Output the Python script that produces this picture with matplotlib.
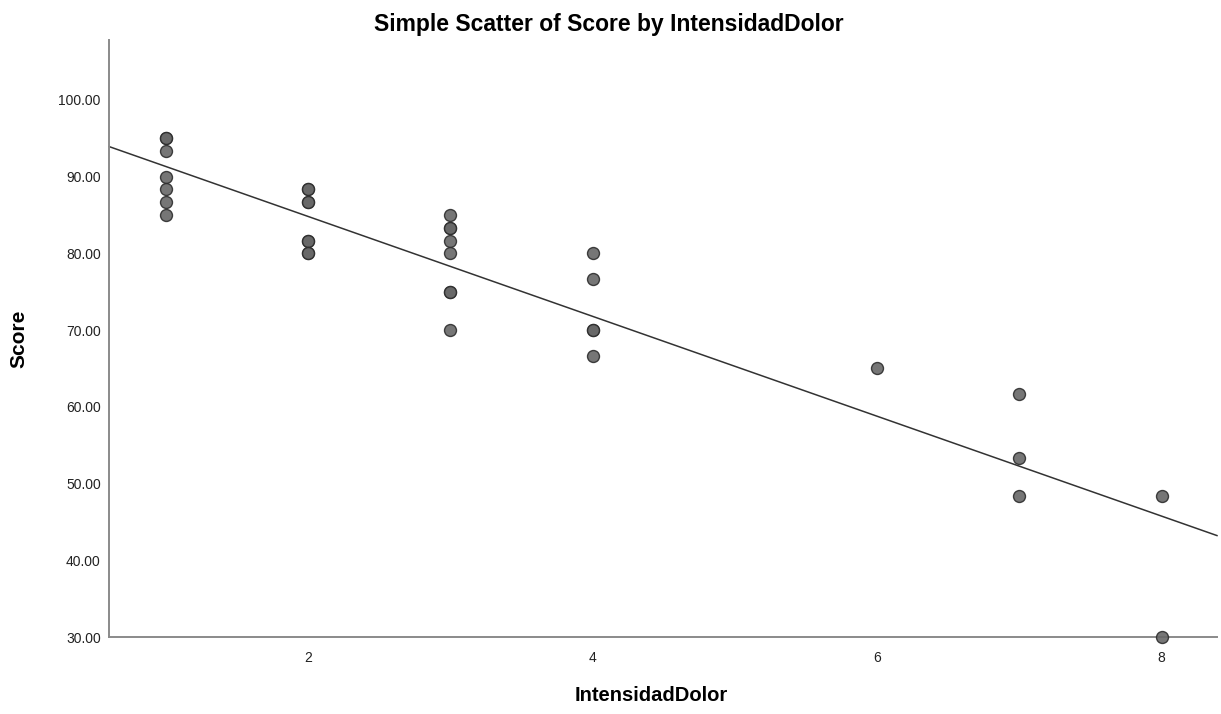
import numpy as np
import matplotlib
matplotlib.use('Agg')
import matplotlib.pyplot as plt

plt.rcParams['font.family'] = ['Liberation Sans', 'DejaVu Sans']

# data (duplicates drawn as overlapping points)
intensidad = [1, 1, 1, 1, 1, 1, 1,
              2, 2, 2, 2, 2, 2, 2, 2,
              3, 3, 3, 3, 3, 3, 3, 3,
              4, 4, 4, 4, 4,
              6,
              7, 7, 7,
              8, 8]
score = [95.00, 95.00, 93.33, 90.00, 88.33, 86.67, 85.00,
         88.33, 88.33, 86.67, 86.67, 81.67, 81.67, 80.00, 80.00,
         85.00, 83.33, 83.33, 81.67, 80.00, 75.00, 75.00, 70.00,
         80.00, 76.67, 70.00, 70.00, 66.67,
         65.00,
         61.67, 53.33, 48.33,
         48.33, 30.00]
y_ticks = [30, 40, 50, 60, 70, 80, 90, 100]
x_ticks = [2, 4, 6, 8]

x = np.array(intensidad, dtype=float)
y = np.array(score)

fig = plt.figure(figsize=(12.21, 7.14), dpi=100)
ax = fig.add_axes([0.0893, 0.1078, 0.9074, 0.8362])

xmin, xmax = 0.6, 8.39
ax.set_xlim(xmin, xmax)
ax.set_ylim(30, 107.8)

# least squares fit line over the whole x range
slope, intercept = np.polyfit(x, y, 1)
xx = np.array([xmin, xmax])
ax.plot(xx, intercept + slope * xx, color='#333333', lw=1.1, zorder=2,
        clip_on=False)

ax.scatter(x, y, s=74, facecolor='#676767', edgecolor='#2e2e2e',
           linewidth=1.0, alpha=0.9, zorder=3, clip_on=False)

ax.set_xticks(x_ticks)
ax.set_yticks(y_ticks)
ax.set_yticklabels([f'{v:.2f}' for v in y_ticks])
ax.tick_params(length=0, labelsize=10, colors='#222222', pad=6)
ax.tick_params(axis='x', pad=10)

for side in ['top', 'right']:
    ax.spines[side].set_visible(False)
for side in ['left', 'bottom']:
    ax.spines[side].set_color('#8a8a8a')
    ax.spines[side].set_linewidth(1.4)

fig.text(0.4988, 0.966, 'Simple Scatter of Score by IntensidadDolor',
         fontsize=16.5, fontweight='bold', ha='center', va='center')
ax.set_xlabel('IntensidadDolor', fontsize=14.5, fontweight='bold')
ax.xaxis.set_label_coords(0.489, -0.082)
ax.set_ylabel('Score', fontsize=15, fontweight='bold')
ax.yaxis.set_label_coords(-0.073, 0.5)

fig.savefig('out.png', dpi=100)
